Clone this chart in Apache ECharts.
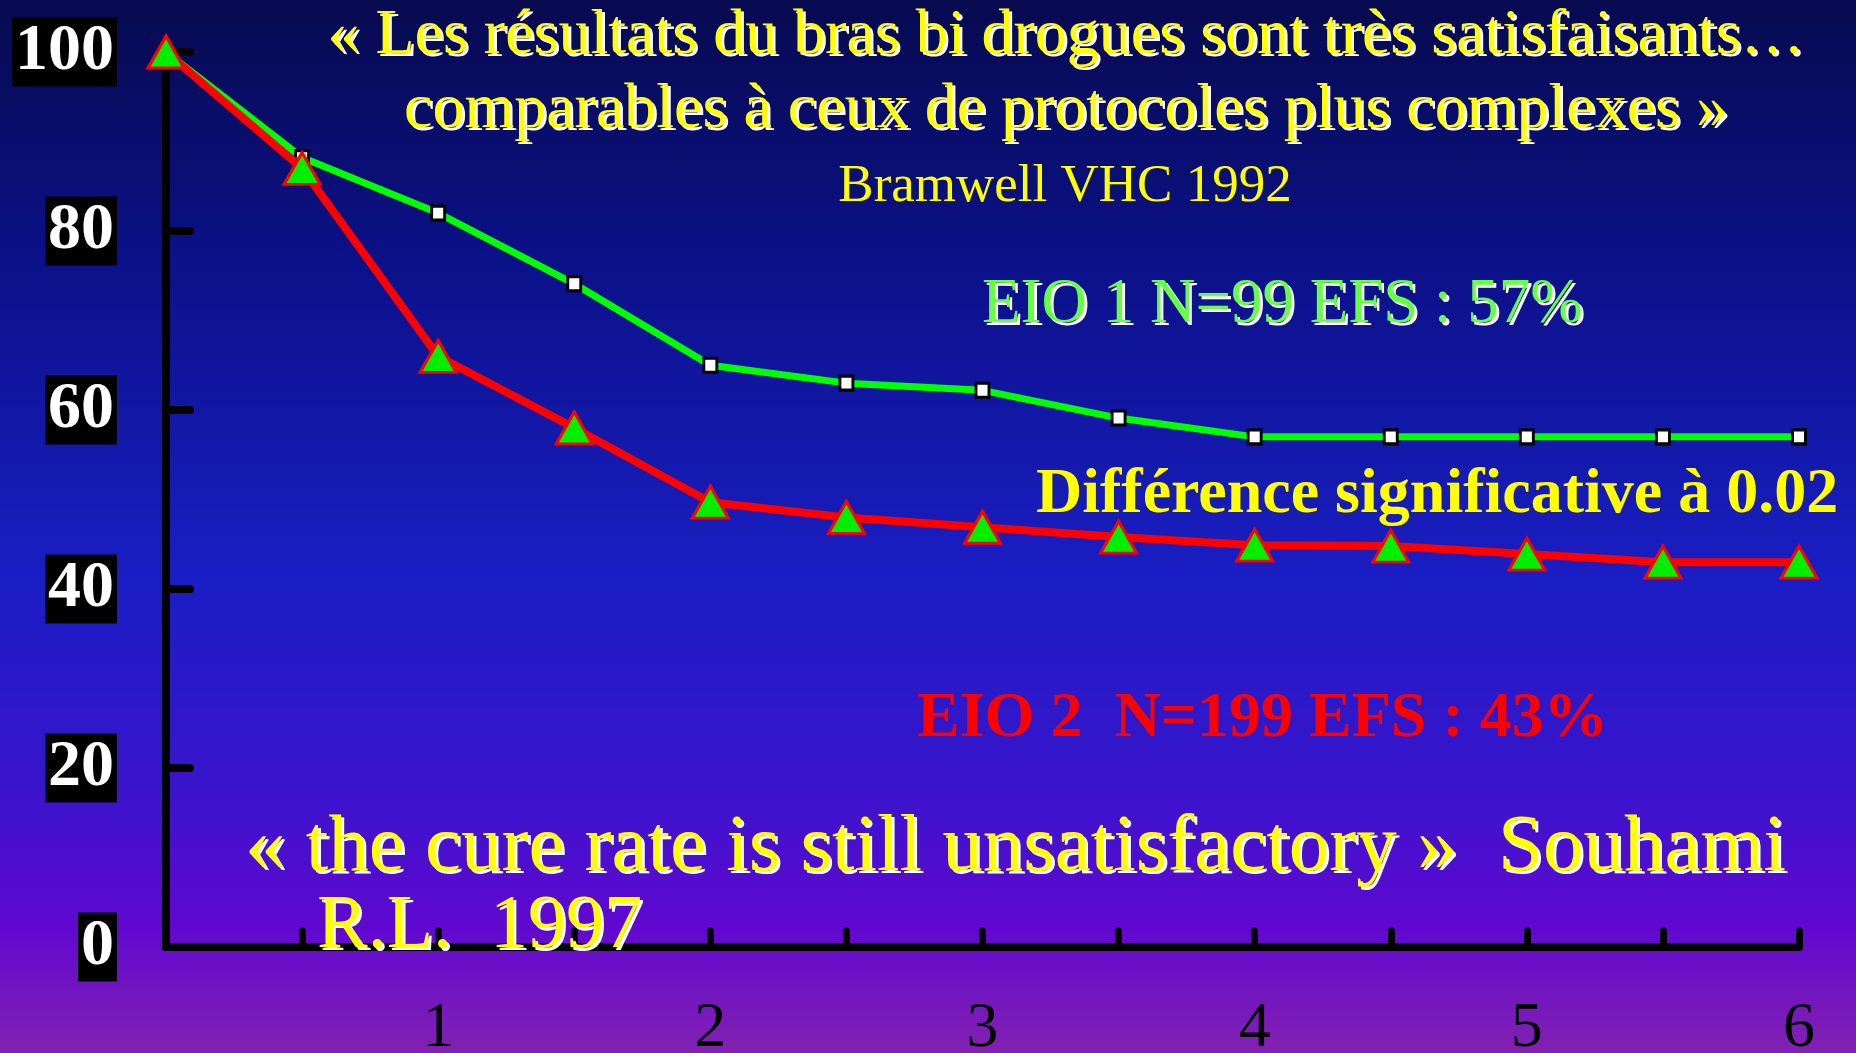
<!DOCTYPE html>
<html>
<head>
<meta charset="utf-8">
<script src="https://cdn.jsdelivr.net/npm/echarts@6/dist/echarts.min.js"></script>
<style>
  html, body { margin: 0; padding: 0; }
  #chart { width: 1856px; height: 1053px; }
</style>
</head>
<body>
<div id="chart"></div>
<script>
// years of follow-up, one point each half year
const years = [0, 0.5, 1, 1.5, 2, 2.5, 3, 3.5, 4, 4.5, 5, 5.5, 6];
const eio1 = [100, 88.2, 82, 74.1, 65, 63, 62.2, 59.1, 57, 57, 57, 57, 57];
const eio2 = [100, 87, 66, 58, 49.7, 48, 46.9, 45.8, 44.9, 44.8, 43.9, 43, 43];
const yTicks = [0, 20, 40, 60, 80, 100];
const xLabels = [1, 2, 3, 4, 5, 6];

const serif = '"Liberation Serif", "Times New Roman", serif';

const chart = echarts.init(document.getElementById('chart'));

// quote text with its white drop shadow
const shadowText = (text, x, y, size, color, align, weight) => {
  const font = (weight || 'normal') + ' ' + size + 'px ' + serif;
  return [
    { type: 'text', x: x + 3, y: y + 3, z: 10,
      style: { text, font, fill: '#ffffff', align, verticalAlign: 'middle' } },
    { type: 'text', x, y, z: 11,
      style: { text, font, fill: color, align, verticalAlign: 'middle' } }
  ];
};
const plainText = (text, x, y, size, color, align, weight) => ({
  type: 'text', x, y, z: 11,
  style: { text, font: (weight || 'normal') + ' ' + size + 'px ' + serif, fill: color, align, verticalAlign: 'middle' }
});

chart.setOption({
  backgroundColor: new echarts.graphic.LinearGradient(0, 0, 0, 1, [
    { offset: 0, color: '#070a4f' },
    { offset: 0.25, color: '#0b1188' },
    { offset: 0.55, color: '#1a1ec4' },
    { offset: 0.75, color: '#3a14cc' },
    { offset: 0.88, color: '#6008d0' },
    { offset: 1, color: '#8222b0' }
  ]),
  animation: false,
  grid: { left: 166, right: 57, top: 52, bottom: 106, containLabel: false, outerBoundsMode: 'none' },
  xAxis: {
    type: 'value',
    min: 0,
    max: 6,
    interval: 0.5,
    axisLine: { lineStyle: { color: '#000', width: 8, cap: 'round' } },
    axisTick: { inside: true, length: 16, lineStyle: { color: '#000', width: 7, cap: 'round' } },
    splitLine: { show: false },
    axisLabel: {
      margin: 50,
      color: '#000',
      fontSize: 64,
      fontFamily: serif,
      formatter: (v) => (xLabels.indexOf(v) >= 0 ? String(v) : '')
    }
  },
  yAxis: {
    type: 'value',
    min: 0,
    max: 100,
    interval: 20,
    axisLine: { show: true, lineStyle: { color: '#000', width: 8, cap: 'round' } },
    axisTick: { show: true, inside: true, length: 24, lineStyle: { color: '#000', width: 8, cap: 'round' } },
    splitLine: { show: false },
    axisLabel: {
      margin: 49,
      color: '#fff',
      fontSize: 66,
      fontWeight: 'bold',
      fontFamily: serif,
      backgroundColor: '#000',
      lineHeight: 69,
      padding: [0, 3, 0, 3],
      formatter: (v) => (yTicks.indexOf(v) >= 0 ? String(v) : '')
    }
  },
  series: [
    {
      name: 'EIO 1',
      type: 'line',
      data: years.map((x, i) => [x, eio1[i]]),
      lineStyle: { color: '#00ff00', width: 7 },
      symbol: 'rect',
      symbolSize: [13, 14],
      itemStyle: { color: '#ffffff', borderColor: '#000', borderWidth: 3 },
      z: 3
    },
    {
      name: 'EIO 2',
      type: 'line',
      data: years.map((x, i) => [x, eio2[i]]),
      lineStyle: { color: '#ff0000', width: 8 },
      symbol: 'triangle',
      symbolSize: [36, 32],
      itemStyle: { color: '#00ee00', borderColor: '#ff0000', borderWidth: 3 },
      z: 4
    }
  ],
  graphic: [
    ...shadowText('« Les résultats du bras bi drogues sont très satisfaisants…', 1066, 36, 64, '#ffff00', 'center'),
    ...shadowText('comparables à ceux de protocoles plus complexes »', 1066, 110, 64, '#ffff00', 'center'),
    plainText('Bramwell VHC 1992', 1065, 187, 53, '#ffff00', 'center'),
    ...shadowText('EIO 1 N=99 EFS : 57%', 982, 305, 63, '#66ff44', 'left'),
    plainText('Différence significative à 0.02', 1036, 495, 64, '#ffff00', 'left', 'bold'),
    plainText('EIO 2  N=199 EFS : 43%', 917, 719, 64, '#ff0000', 'left', 'bold'),
    ...shadowText('« the cure rate is still unsatisfactory »  Souhami', 245, 849, 81, '#ffff00', 'left'),
    ...shadowText('R.L.  1997', 317, 927, 76, '#ffff00', 'left')
  ]
});
</script>
</body>
</html>
